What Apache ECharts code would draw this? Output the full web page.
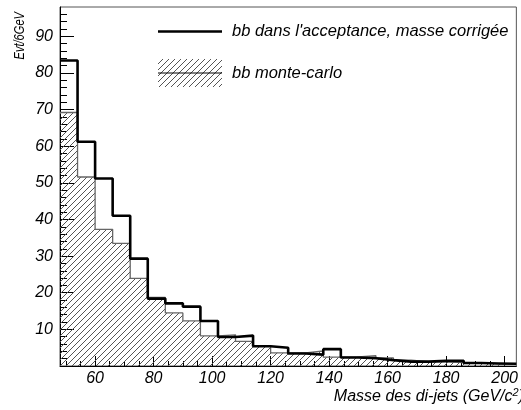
<!DOCTYPE html>
<html><head><meta charset="utf-8">
<script src="https://cdn.jsdelivr.net/npm/echarts@6/dist/echarts.min.js"></script>
<style>html,body{margin:0;padding:0;background:#fff}#c{width:521px;height:410px}</style>
</head><body><div id="c"></div>
<script>
// ---- data ----
const binLeftEdges = [48,54,60,66,72,78,84,90,96,102,108,114,120,126,132,138,144,150,156,162,168,174,180,186,192,198];
const lastBinUpperEdge = 204;
const corrigee   = [83.4,61.2,51.2,41.0,29.3,18.4,17.1,16.2,12.3,7.9,8.3,5.4,5.0,3.4,3.1,4.6,2.3,2.1,1.6,1.2,1.2,1.4,1.4,0.8,0.7,0.6];
const monteCarlo = [69.2,51.6,37.3,33.5,23.9,18.7,14.5,12.3,8.2,8.5,6.7,5.5,3.6,3.6,4.1,2.4,2.5,2.8,2.2,1.6,1.2,1.1,0.9,0.8,0.6,0.5];
const xTickLabels = [60,80,100,120,140,160,180,200];
const xMinorTicks = [50,55,65,70,75,85,90,95,105,110,115,125,130,135,145,150,155,165,170,175,185,190,195];
const yTickLabels = [10,20,30,40,50,60,70,80,90];
const yMajorTicks = [0,10,20,30,40,50,60,70,80,90];
const yMinorTicks = [2,4,6,8,12,14,16,18,22,24,26,28,32,34,36,38,42,44,46,48,52,54,56,58,62,64,66,68,72,74,76,78,82,84,86,88,92,94,96];
const legendCorr = "bb dans l'acceptance, masse corrigée";
const legendMC = "bb monte-carlo";
const xTitle = "Masse des di-jets (GeV/c";
const yTitle = "Evt/6GeV";

function stepPoints(vals){
  const pts = binLeftEdges.map((x,i)=>[x, vals[i]]);
  pts.push([lastBinUpperEdge, vals[vals.length-1]]);
  return pts;
}
function hatchPattern(){
  const s = 6, c = document.createElement('canvas');
  c.width = s; c.height = s;
  const g = c.getContext('2d');
  g.strokeStyle = '#555'; g.lineWidth = 1;
  g.beginPath();
  g.moveTo(0, s); g.lineTo(s, 0);
  g.moveTo(-1, 1); g.lineTo(1, -1);
  g.moveTo(s-1, s+1); g.lineTo(s+1, s-1);
  g.stroke();
  return c;
}
const pat = hatchPattern();
const FONT = 'Liberation Sans, Arial, sans-serif';

const chart = echarts.init(document.getElementById('c'), null, {renderer:'canvas'});
chart.setOption({
  animation: false,
  backgroundColor: '#fff',
  grid: {left: 60, top: 7, width: 462, height: 359, show: true, borderColor: '#555', borderWidth: 1, backgroundColor: 'transparent'},
  xAxis: [
    {type:'value', min:48, max:204, position:'bottom',
     axisLine:{onZero:false, lineStyle:{color:'#000', width:1}},
     axisTick:{inside:true, length:10, customValues:xTickLabels, lineStyle:{color:'#000'}},
     axisLabel:{customValues:xTickLabels, color:'#000', fontSize:16, fontStyle:'italic', fontFamily:FONT, margin:5},
     splitLine:{show:false}},
    {type:'value', min:48, max:204, position:'bottom',
     axisLine:{show:false},
     axisTick:{inside:true, length:5, customValues:xMinorTicks, lineStyle:{color:'#000'}},
     axisLabel:{show:false}, splitLine:{show:false}}
  ],
  yAxis: [
    {type:'value', min:0, max:98, position:'left',
     axisLine:{show:true, onZero:false, lineStyle:{color:'#000', width:1}},
     axisTick:{show:true, inside:true, length:14, customValues:yMajorTicks, lineStyle:{color:'#000'}},
     axisLabel:{customValues:yTickLabels, color:'#000', fontSize:16, fontStyle:'italic', fontFamily:FONT, margin:7},
     splitLine:{show:false}},
    {type:'value', min:0, max:98, position:'left',
     axisLine:{show:false},
     axisTick:{show:true, inside:true, length:7, customValues:yMinorTicks, lineStyle:{color:'#000'}},
     axisLabel:{show:false}, splitLine:{show:false}}
  ],
  series: [
    {name:legendMC, type:'line', step:'end', data: stepPoints(monteCarlo), symbol:'none', silent:true,
     lineStyle:{color:'#666', width:1.3},
     areaStyle:{color:{image:pat, repeat:'repeat'}, opacity:1}, z:2},
    {name:legendCorr, type:'line', step:'end', data: stepPoints(corrigee), symbol:'none', silent:true,
     lineStyle:{color:'#000', width:2.6}, z:3}
  ],
  graphic: [
    {type:'line', shape:{x1:158, y1:31.5, x2:222, y2:31.5}, style:{stroke:'#000', lineWidth:2.5}, z:10},
    {type:'text', x:232, y:31.5, style:{text:legendCorr, font:'italic 16.5px '+FONT, fill:'#000', textAlign:'left', textVerticalAlign:'middle'}, z:10},
    {type:'rect', shape:{x:158, y:59, width:64, height:28}, style:{fill:{image:pat, repeat:'repeat'}, stroke:null}, z:10},
    {type:'line', shape:{x1:158, y1:73, x2:222, y2:73}, style:{stroke:'#000', lineWidth:1}, z:11},
    {type:'text', x:232, y:73, style:{text:legendMC, font:'italic 16.5px '+FONT, fill:'#000', textAlign:'left', textVerticalAlign:'middle'}, z:10},
    {type:'text', x:20, y:12, rotation:Math.PI/2, scaleX:0.74,
     style:{text:yTitle, font:'italic 15px '+FONT, fill:'#000', textAlign:'right', textVerticalAlign:'middle'}, z:10},
    {type:'text', x:524, y:397,
     style:{text:'{a|'+xTitle+'}{s|2}{a|)}', textAlign:'right', textVerticalAlign:'middle',
       rich:{a:{font:'italic 16px '+FONT, fill:'#000', fontSize:16, fontStyle:'italic', fontFamily:FONT},
             s:{fontSize:11, fontStyle:'italic', fontFamily:FONT, fill:'#000', verticalAlign:'top', padding:[0,0,8,0]}}}, z:10}
  ]
});
</script></body></html>
